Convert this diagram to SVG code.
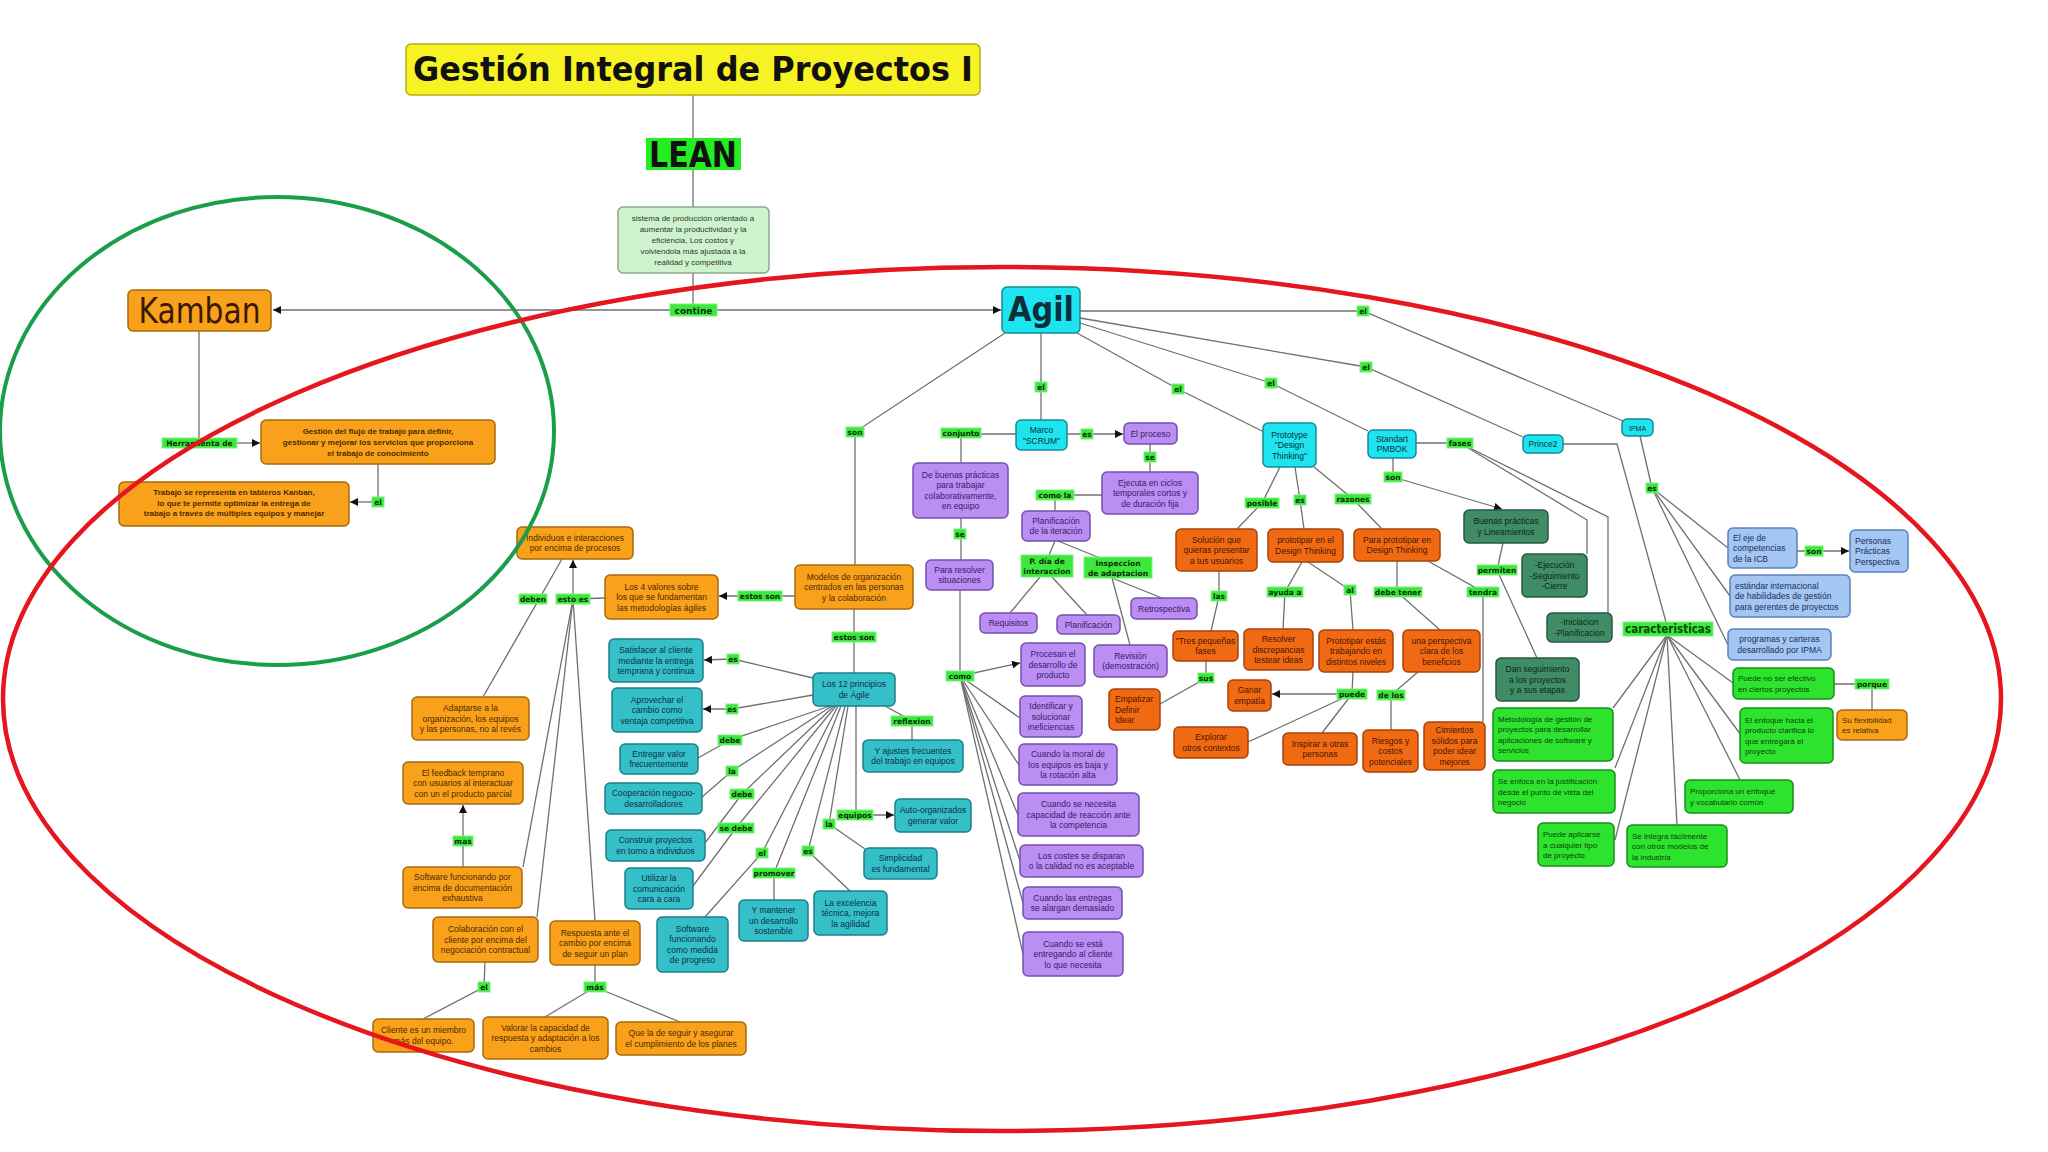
<svg xmlns="http://www.w3.org/2000/svg" width="2048" height="1152" viewBox="0 0 2048 1152">
<defs>
<marker id="ah" viewBox="0 0 10 10" refX="10" refY="5" markerWidth="8" markerHeight="8" markerUnits="userSpaceOnUse" orient="auto"><path d="M0,0 L10,5 L0,10 z" fill="#111"/></marker>
<style>
.t{font-family:"Liberation Sans",Arial,sans-serif;font-size:8.5px;text-anchor:middle}
.s8{font-size:8px}
.tl{text-anchor:start}
.b{font-weight:bold}
.nd rect{stroke-width:1.5;rx:5px}
.lo rect{fill:#f9a11b;stroke:#a86a0c}.lo text{fill:#4d2a00}
.do rect{fill:#f06a14;stroke:#a84208}.do text{fill:#4a1500}
.te rect{fill:#35bfc9;stroke:#1c7f88}.te text{fill:#0b3148}
.cy rect{fill:#1ee4ef;stroke:#138c96}.cy text{fill:#0c2f3a}
.pu rect{fill:#ba8ef3;stroke:#7450ad}.pu text{fill:#3a1a6a}
.dg rect{fill:#3f8c66;stroke:#245a40}.dg text{fill:#0c2a18}
.bg rect{fill:#2ee32e;stroke:#17901a}.bg text{fill:#0a420a}
.lb rect{fill:#a3c6f3;stroke:#5a82bd}.lb text{fill:#1b2f5c}
.lg rect{fill:#cdf3cd;stroke:#8aa88a}.lg text{fill:#333}
#connectors path{fill:none;stroke:#707070;stroke-width:1.3}
#connectors path.a{marker-end:url(#ah)}
.lbl rect{fill:#3ce83c;stroke:#7cf27c;stroke-width:1}
.lbl text{font-family:"DejaVu Sans","Liberation Sans",sans-serif;font-weight:bold;font-size:7.5px;fill:#0b2e0b;text-anchor:middle}
.big{font-family:"DejaVu Sans","Liberation Sans",sans-serif;font-weight:bold;text-anchor:middle;fill:#111}
</style>
</defs>
<rect width="2048" height="1152" fill="#ffffff"/>

<g id="connectors">
<path d="M693,95V138"/>
<path d="M693,170V207"/>
<path d="M693,273V304"/>
<path class="a" d="M670,310H273"/>
<path class="a" d="M717,310H1001"/>
<path d="M199,331V438"/>
<path class="a" d="M237,443H260"/>
<path d="M378,464V497"/>
<path class="a" d="M372,502H350"/>
<path d="M1041,333V420"/>
<path d="M1005,333L855,432V565"/>
<path d="M1080,311H1363L1623,421"/>
<path d="M1080,318L1366,367L1523,437"/>
<path d="M1080,323L1271,383L1368,431"/>
<path d="M1077,333L1178,389L1264,432"/>
<path d="M1016,434H961V463"/>
<path class="a" d="M1067,434H1123"/>
<path d="M1150,444V472"/>
<path d="M1102,495H1055V511"/>
<path d="M961,518V560"/>
<path d="M960,590V676"/>
<path d="M1055,541L1047,560"/>
<path d="M1058,541L1110,562"/>
<path d="M1040,577L1010,613"/>
<path d="M1052,577L1087,615"/>
<path d="M1112,578L1162,598"/>
<path d="M1112,578L1130,645"/>
<path class="a" d="M960,676L1020,663"/>
<path d="M960,676L1020,718"/>
<path d="M960,676L1019,765"/>
<path d="M960,676L1018,815"/>
<path d="M960,676L1020,861"/>
<path d="M960,676L1023,903"/>
<path d="M960,676L1023,954"/>
<path d="M1280,467L1262,503L1237,529"/>
<path d="M1295,467L1300,500L1304,529"/>
<path d="M1314,467L1353,499L1382,529"/>
<path d="M1219,571V596L1211,631"/>
<path d="M1302,562L1285,592L1283,629"/>
<path d="M1308,562L1350,590L1353,630"/>
<path d="M1397,561V592L1440,630"/>
<path d="M1428,561L1483,592V722"/>
<path d="M1206,661V678L1160,704"/>
<path d="M1353,672L1352,694"/>
<path class="a" d="M1338,694H1272"/>
<path d="M1352,694L1248,742"/>
<path d="M1352,694L1322,733"/>
<path d="M1418,672L1391,695V730"/>
<path d="M1416,443H1460"/>
<path d="M1460,443L1587,520V554"/>
<path d="M1460,443L1608,517V613"/>
<path d="M1393,458V477"/>
<path class="a" d="M1393,477L1502,509"/>
<path d="M1503,543L1497,570L1537,658"/>
<path d="M1563,444H1617L1666,622"/>
<path d="M1640,436L1652,488"/>
<path d="M1652,488L1728,548"/>
<path d="M1652,488L1730,596"/>
<path d="M1652,488L1728,645"/>
<path class="a" d="M1797,551H1849"/>
<path d="M1667,635L1613,708"/>
<path d="M1667,635L1615,768"/>
<path d="M1667,635L1615,840"/>
<path d="M1667,635L1677,825"/>
<path d="M1667,635L1740,780"/>
<path d="M1667,635L1741,735"/>
<path d="M1667,635L1733,683"/>
<path d="M1834,684H1872V710"/>
<path class="a" d="M795,596H719"/>
<path d="M854,609V673"/>
<path d="M605,598L573,599"/>
<path class="a" d="M573,599V560"/>
<path d="M562,559L483,697"/>
<path d="M573,599L523,867"/>
<path d="M573,599L537,917"/>
<path d="M573,599L595,921"/>
<path class="a" d="M463,867V805"/>
<path d="M485,962L484,987L423,1019"/>
<path d="M595,965V987"/>
<path d="M595,987L545,1017"/>
<path d="M595,987L680,1022"/>
<path class="a" d="M813,678L733,659L704,660"/>
<path class="a" d="M813,695L732,709H703"/>
<path d="M830,706L730,740L698,758"/>
<path d="M832,706L732,771L702,797"/>
<path d="M834,706L742,794L705,843"/>
<path d="M836,706L736,828L693,886"/>
<path d="M838,706L762,853L705,917"/>
<path d="M841,706L774,873V900"/>
<path d="M845,706L808,851L850,891"/>
<path d="M848,706L829,824L865,849"/>
<path class="a" d="M856,706V815H894"/>
<path d="M885,706L912,721V740"/>
</g>

<g id="n-title"><rect x="406" y="44" width="574" height="51" rx="5" fill="#f7f224" stroke="#b5ae10" stroke-width="1.5"/><text class="big" x="693" y="81" font-size="34" textLength="560" lengthAdjust="spacingAndGlyphs">Gestión Integral de Proyectos I</text></g>
<g id="n-lean"><rect x="646" y="138" width="95" height="32" fill="#22ee22"/><text class="big" x="693" y="167" font-size="36" textLength="88" lengthAdjust="spacingAndGlyphs">LEAN</text></g>
<g id="n-desc" class="nd lg"><rect x="618" y="207" width="151" height="66"/><text class="t s8" x="693" y="221"><tspan x="693">sistema de producción orientado a</tspan><tspan x="693" dy="11">aumentar la productividad y la</tspan><tspan x="693" dy="11">eficiencia, Los costos y</tspan><tspan x="693" dy="11">volviendola más ajustada a la</tspan><tspan x="693" dy="11">realidad y competitiva</tspan></text></g>

<g id="n-kamban" class="nd lo"><rect x="128" y="290" width="143" height="41"/><text class="big" x="199.5" y="323" font-size="35" font-weight="normal" style="font-weight:normal;fill:#3a1a00" textLength="122" lengthAdjust="spacingAndGlyphs">Kamban</text></g>
<g id="n-gestion" class="nd lo"><rect x="261" y="420" width="234" height="44"/><text class="t s8 b" x="378" y="434"><tspan x="378">Gestión del flujo de trabajo para definir,</tspan><tspan x="378" dy="11">gestionar y mejorar los servicios que proporciona</tspan><tspan x="378" dy="11">el trabajo de conocimiento</tspan></text></g>
<g id="n-trabajo" class="nd lo"><rect x="119" y="482" width="230" height="44"/><text class="t s8 b" x="234" y="495"><tspan x="234">Trabajo se representa en tableros Kanban,</tspan><tspan x="234" dy="10.5">lo que te permite optimizar la entrega de</tspan><tspan x="234" dy="10.5">trabajo a través de múltiples equipos y manejar</tspan></text></g>

<g id="n-agil" class="nd cy"><rect x="1002" y="287" width="78" height="46"/><text class="big" x="1041" y="321" font-size="34" textLength="66" lengthAdjust="spacingAndGlyphs">Agil</text></g>
<g id="n-marco" class="nd cy"><rect x="1016" y="420" width="51" height="30"/><text class="t" x="1041.5" y="433"><tspan x="1041.5">Marco</tspan><tspan x="1041.5" dy="10.5">"SCRUM"</tspan></text></g>
<g id="n-proceso" class="nd pu"><rect x="1124" y="423" width="53" height="21"/><text class="t" x="1150.5" y="436.5">El proceso</text></g>
<g id="n-ejecuta" class="nd pu"><rect x="1102" y="472" width="96" height="42"/><text class="t" x="1150" y="485.5"><tspan x="1150">Ejecuta en ciclos</tspan><tspan x="1150" dy="10.5">temporales cortos y</tspan><tspan x="1150" dy="10.5">de duración fija</tspan></text></g>
<g id="n-buenaspr" class="nd pu"><rect x="913" y="463" width="95" height="55"/><text class="t" x="960.5" y="477.75"><tspan x="960.5">De buenas prácticas</tspan><tspan x="960.5" dy="10.5">para trabajar</tspan><tspan x="960.5" dy="10.5">colaborativamente,</tspan><tspan x="960.5" dy="10.5">en equipo</tspan></text></g>
<g id="n-resolver" class="nd pu"><rect x="926" y="560" width="67" height="30"/><text class="t" x="959.5" y="572.75"><tspan x="959.5">Para resolver</tspan><tspan x="959.5" dy="10.5">situaciones</tspan></text></g>
<g id="n-planit" class="nd pu"><rect x="1022" y="511" width="68" height="30"/><text class="t" x="1056" y="523.75"><tspan x="1056">Planificación</tspan><tspan x="1056" dy="10.5">de la iteración</tspan></text></g>
<g id="n-requisitos" class="nd pu"><rect x="980" y="613" width="57" height="20"/><text class="t" x="1008.5" y="626">Requisitos</text></g>
<g id="n-planif" class="nd pu"><rect x="1057" y="615" width="63" height="19"/><text class="t" x="1088.5" y="627.5">Planificación</text></g>
<g id="n-retro" class="nd pu"><rect x="1131" y="598" width="66" height="21"/><text class="t" x="1164" y="611.5">Retrospectiva</text></g>
<g id="n-revision" class="nd pu"><rect x="1094" y="645" width="73" height="32"/><text class="t" x="1130.5" y="658.75"><tspan x="1130.5">Revisión</tspan><tspan x="1130.5" dy="10.5">(demostración)</tspan></text></g>
<g id="n-procesan" class="nd pu"><rect x="1021" y="643" width="64" height="43"/><text class="t" x="1053" y="657"><tspan x="1053">Procesan el</tspan><tspan x="1053" dy="10.5">desarrollo de</tspan><tspan x="1053" dy="10.5">producto</tspan></text></g>
<g id="n-identificar" class="nd pu"><rect x="1020" y="696" width="62" height="41"/><text class="t" x="1051" y="709"><tspan x="1051">Identificar y</tspan><tspan x="1051" dy="10.5">solucionar</tspan><tspan x="1051" dy="10.5">ineficiencias</tspan></text></g>
<g id="n-moral" class="nd pu"><rect x="1019" y="744" width="98" height="41"/><text class="t" x="1068" y="757"><tspan x="1068">Cuando la moral de</tspan><tspan x="1068" dy="10.5">los equipos es baja y</tspan><tspan x="1068" dy="10.5">la rotación alta</tspan></text></g>
<g id="n-necesita" class="nd pu"><rect x="1018" y="793" width="121" height="43"/><text class="t" x="1078.5" y="807"><tspan x="1078.5">Cuando se necesita</tspan><tspan x="1078.5" dy="10.5">capacidad de reacción ante</tspan><tspan x="1078.5" dy="10.5">la competencia</tspan></text></g>
<g id="n-costes" class="nd pu"><rect x="1020" y="845" width="123" height="32"/><text class="t" x="1081.5" y="858.75"><tspan x="1081.5">Los costes se disparan</tspan><tspan x="1081.5" dy="10.5">o la calidad no es aceptable</tspan></text></g>
<g id="n-entregas" class="nd pu"><rect x="1023" y="887" width="99" height="32"/><text class="t" x="1072.5" y="900.75"><tspan x="1072.5">Cuando las entregas</tspan><tspan x="1072.5" dy="10.5">se alargan demasiado</tspan></text></g>
<g id="n-cliente" class="nd pu"><rect x="1023" y="932" width="100" height="44"/><text class="t" x="1073" y="946.5"><tspan x="1073">Cuando se está</tspan><tspan x="1073" dy="10.5">entregando al cliente</tspan><tspan x="1073" dy="10.5">lo que necesita</tspan></text></g>

<g id="n-prototype" class="nd cy"><rect x="1263" y="423" width="53" height="44"/><text class="t" x="1289.5" y="437.5"><tspan x="1289.5">Prototype</tspan><tspan x="1289.5" dy="10.5">"Design</tspan><tspan x="1289.5" dy="10.5">Thinking"</tspan></text></g>
<g id="n-solucion" class="nd do"><rect x="1176" y="529" width="81" height="42"/><text class="t" x="1216.5" y="542.5"><tspan x="1216.5">Solución que</tspan><tspan x="1216.5" dy="10.5">quieras presentar</tspan><tspan x="1216.5" dy="10.5">a tus usuarios</tspan></text></g>
<g id="n-prototipar" class="nd do"><rect x="1268" y="529" width="75" height="33"/><text class="t" x="1305.5" y="543.25"><tspan x="1305.5">prototipar en el</tspan><tspan x="1305.5" dy="10.5">Design Thinking</tspan></text></g>
<g id="n-paraproto" class="nd do"><rect x="1354" y="529" width="86" height="32"/><text class="t" x="1397" y="542.75"><tspan x="1397">Para prototipar en</tspan><tspan x="1397" dy="10.5">Design Thinking</tspan></text></g>
<g id="n-tres" class="nd do"><rect x="1173" y="631" width="65" height="30"/><text class="t" x="1205.5" y="643.75"><tspan x="1205.5">"Tres pequeñas</tspan><tspan x="1205.5" dy="10.5">fases</tspan></text></g>
<g id="n-resolverd" class="nd do"><rect x="1244" y="629" width="69" height="41"/><text class="t" x="1278.5" y="642"><tspan x="1278.5">Resolver</tspan><tspan x="1278.5" dy="10.5">discrepancias</tspan><tspan x="1278.5" dy="10.5">testear ideas</tspan></text></g>
<g id="n-niveles" class="nd do"><rect x="1319" y="630" width="74" height="42"/><text class="t" x="1356" y="643.5"><tspan x="1356">Prototipar estás</tspan><tspan x="1356" dy="10.5">trabajando en</tspan><tspan x="1356" dy="10.5">distintos niveles</tspan></text></g>
<g id="n-perspectiva" class="nd do"><rect x="1403" y="630" width="77" height="42"/><text class="t" x="1441.5" y="643.5"><tspan x="1441.5">una perspectiva</tspan><tspan x="1441.5" dy="10.5">clara de los</tspan><tspan x="1441.5" dy="10.5">beneficios</tspan></text></g>
<g id="n-empatizar" class="nd do"><rect x="1109" y="689" width="51" height="41"/><text class="t tl" x="1115" y="702"><tspan x="1115">Empatizar</tspan><tspan x="1115" dy="10.5">Definir</tspan><tspan x="1115" dy="10.5">Idear</tspan></text></g>
<g id="n-ganar" class="nd do"><rect x="1228" y="680" width="43" height="31"/><text class="t" x="1249.5" y="693.25"><tspan x="1249.5">Ganar</tspan><tspan x="1249.5" dy="10.5">empatía</tspan></text></g>
<g id="n-explorar" class="nd do"><rect x="1174" y="727" width="74" height="31"/><text class="t" x="1211" y="740.25"><tspan x="1211">Explorar</tspan><tspan x="1211" dy="10.5">otros contextos</tspan></text></g>
<g id="n-inspirar" class="nd do"><rect x="1283" y="733" width="74" height="32"/><text class="t" x="1320" y="746.75"><tspan x="1320">Inspirar a otras</tspan><tspan x="1320" dy="10.5">personas</tspan></text></g>
<g id="n-riesgos" class="nd do"><rect x="1363" y="730" width="55" height="42"/><text class="t" x="1390.5" y="743.5"><tspan x="1390.5">Riesgos y</tspan><tspan x="1390.5" dy="10.5">costos</tspan><tspan x="1390.5" dy="10.5">potenciales</tspan></text></g>
<g id="n-cimientos" class="nd do"><rect x="1424" y="722" width="61" height="48"/><text class="t" x="1454.5" y="733.25"><tspan x="1454.5">Cimientos</tspan><tspan x="1454.5" dy="10.5">sólidos para</tspan><tspan x="1454.5" dy="10.5">poder idear</tspan><tspan x="1454.5" dy="10.5">mejores</tspan></text></g>

<g id="n-pmbok" class="nd cy"><rect x="1368" y="430" width="48" height="28"/><text class="t" x="1392" y="441.75"><tspan x="1392">Standart</tspan><tspan x="1392" dy="10.5">PMBOK</tspan></text></g>
<g id="n-buenasl" class="nd dg"><rect x="1464" y="510" width="84" height="33"/><text class="t" x="1506" y="524.25"><tspan x="1506">Buenas prácticas</tspan><tspan x="1506" dy="10.5">y Lineamientos</tspan></text></g>
<g id="n-ejecucion" class="nd dg"><rect x="1522" y="554" width="65" height="43"/><text class="t" x="1554.5" y="568"><tspan x="1554.5">-Ejecución</tspan><tspan x="1554.5" dy="10.5">-Seguimiento</tspan><tspan x="1554.5" dy="10.5">-Cierre</tspan></text></g>
<g id="n-iniciacion" class="nd dg"><rect x="1547" y="613" width="65" height="29"/><text class="t" x="1579.5" y="625.25"><tspan x="1579.5">-Iniciacion</tspan><tspan x="1579.5" dy="10.5">-Planificacion</tspan></text></g>
<g id="n-dan" class="nd dg"><rect x="1496" y="658" width="83" height="43"/><text class="t" x="1537.5" y="672"><tspan x="1537.5">Dan seguimiento</tspan><tspan x="1537.5" dy="10.5">a los proyectos</tspan><tspan x="1537.5" dy="10.5">y a sus etapas</tspan></text></g>
<g id="n-prince2" class="nd cy"><rect x="1523" y="435" width="40" height="18"/><text class="t" x="1543" y="447">Prince2</text></g>
<g id="n-ipma" class="nd cy"><rect x="1622" y="419" width="31" height="17"/><text class="t" x="1637.5" y="430.5" style="font-size:7px">IPMA</text></g>
<g id="n-icb" class="nd lb"><rect x="1728" y="528" width="69" height="40"/><text class="t tl" x="1733" y="540.5"><tspan x="1733">El eje de</tspan><tspan x="1733" dy="10.5">competencias</tspan><tspan x="1733" dy="10.5">de la ICB</tspan></text></g>
<g id="n-personas" class="nd lb"><rect x="1850" y="530" width="58" height="42"/><text class="t tl" x="1855" y="543.5"><tspan x="1855">Personas</tspan><tspan x="1855" dy="10.5">Prácticas</tspan><tspan x="1855" dy="10.5">Perspectiva</tspan></text></g>
<g id="n-estandar" class="nd lb"><rect x="1730" y="575" width="120" height="42"/><text class="t tl" x="1735" y="588.5"><tspan x="1735">estándar internacional</tspan><tspan x="1735" dy="10.5">de habilidades de gestión</tspan><tspan x="1735" dy="10.5">para gerentes de proyectos</tspan></text></g>
<g id="n-programas" class="nd lb"><rect x="1728" y="629" width="103" height="31"/><text class="t" x="1779.5" y="642.25"><tspan x="1779.5">programas y carteras</tspan><tspan x="1779.5" dy="10.5">desarrollado por IPMA</tspan></text></g>
<g id="n-puedeno" class="nd bg"><rect x="1733" y="668" width="101" height="31"/><text class="t tl s8" x="1738" y="681.25"><tspan x="1738">Puede no ser efectivo</tspan><tspan x="1738" dy="10.5">en ciertos proyectos</tspan></text></g>
<g id="n-flexibilidad" class="nd lo"><rect x="1837" y="710" width="70" height="30"/><text class="t tl s8" x="1842" y="722.75"><tspan x="1842">Su flexibilidad</tspan><tspan x="1842" dy="10.5">es relativa</tspan></text></g>
<g id="n-enfoque" class="nd bg"><rect x="1740" y="708" width="93" height="55"/><text class="t tl s8" x="1745" y="722.75"><tspan x="1745">El enfoque hacia el</tspan><tspan x="1745" dy="10.5">producto clarifica lo</tspan><tspan x="1745" dy="10.5">que entregará el</tspan><tspan x="1745" dy="10.5">proyecto</tspan></text></g>
<g id="n-proporciona" class="nd bg"><rect x="1685" y="780" width="108" height="33"/><text class="t tl s8" x="1690" y="794.25"><tspan x="1690">Proporciona un enfoque</tspan><tspan x="1690" dy="10.5">y vocabulario común</tspan></text></g>
<g id="n-integra" class="nd bg"><rect x="1627" y="825" width="100" height="42"/><text class="t tl s8" x="1632" y="838.5"><tspan x="1632">Se integra fácilmente</tspan><tspan x="1632" dy="10.5">con otros modelos de</tspan><tspan x="1632" dy="10.5">la industria</tspan></text></g>
<g id="n-aplicarse" class="nd bg"><rect x="1538" y="823" width="76" height="43"/><text class="t tl s8" x="1543" y="837"><tspan x="1543">Puede aplicarse</tspan><tspan x="1543" dy="10.5">a cualquier tipo</tspan><tspan x="1543" dy="10.5">de proyecto</tspan></text></g>
<g id="n-enfoca" class="nd bg"><rect x="1493" y="770" width="122" height="43"/><text class="t tl s8" x="1498" y="784"><tspan x="1498">Se enfoca en la justificación</tspan><tspan x="1498" dy="10.5">desde el punto de vista del</tspan><tspan x="1498" dy="10.5">negocio</tspan></text></g>
<g id="n-metodologia" class="nd bg"><rect x="1493" y="708" width="120" height="53"/><text class="t tl s8" x="1498" y="721.75"><tspan x="1498">Metodología de gestión de</tspan><tspan x="1498" dy="10.5">proyectos para desarrollar</tspan><tspan x="1498" dy="10.5">aplicaciones de software y</tspan><tspan x="1498" dy="10.5">servicios</tspan></text></g>

<g id="n-modelos" class="nd lo"><rect x="795" y="565" width="118" height="44"/><text class="t" x="854" y="579.5"><tspan x="854">Modelos de organización</tspan><tspan x="854" dy="10.5">centrados en las personas</tspan><tspan x="854" dy="10.5">y la colaboración</tspan></text></g>
<g id="n-valores4" class="nd lo"><rect x="605" y="575" width="113" height="44"/><text class="t" x="661.5" y="589.5"><tspan x="661.5">Los 4 valores sobre</tspan><tspan x="661.5" dy="10.5">los que se fundamentan</tspan><tspan x="661.5" dy="10.5">las metodologías ágiles</tspan></text></g>
<g id="n-individuos" class="nd lo"><rect x="517" y="527" width="116" height="32"/><text class="t" x="575" y="540.75"><tspan x="575">Individuos e interacciones</tspan><tspan x="575" dy="10.5">por encima de procesos</tspan></text></g>
<g id="n-adaptarse" class="nd lo"><rect x="412" y="697" width="117" height="43"/><text class="t" x="470.5" y="711"><tspan x="470.5">Adaptarse a la</tspan><tspan x="470.5" dy="10.5">organización, los equipos</tspan><tspan x="470.5" dy="10.5">y las personas, no al revés</tspan></text></g>
<g id="n-feedback" class="nd lo"><rect x="403" y="762" width="120" height="42"/><text class="t" x="463" y="775.5"><tspan x="463">El feedback temprano</tspan><tspan x="463" dy="10.5">con usuarios al interactuar</tspan><tspan x="463" dy="10.5">con un el producto parcial</tspan></text></g>
<g id="n-softdoc" class="nd lo"><rect x="403" y="867" width="119" height="41"/><text class="t" x="462.5" y="880"><tspan x="462.5">Software funcionando por</tspan><tspan x="462.5" dy="10.5">encima de documentación</tspan><tspan x="462.5" dy="10.5">exhaustiva</tspan></text></g>
<g id="n-colab" class="nd lo"><rect x="433" y="917" width="105" height="45"/><text class="t" x="485.5" y="932"><tspan x="485.5">Colaboración con el</tspan><tspan x="485.5" dy="10.5">cliente por encima del</tspan><tspan x="485.5" dy="10.5">negociación contractual</tspan></text></g>
<g id="n-respuesta" class="nd lo"><rect x="550" y="921" width="90" height="44"/><text class="t" x="595" y="935.5"><tspan x="595">Respuesta ante el</tspan><tspan x="595" dy="10.5">cambio por encima</tspan><tspan x="595" dy="10.5">de seguir un plan</tspan></text></g>
<g id="n-miembro" class="nd lo"><rect x="373" y="1019" width="101" height="33"/><text class="t" x="423.5" y="1033.25"><tspan x="423.5">Cliente es un miembro</tspan><tspan x="423.5" dy="10.5">más del equipo.</tspan></text></g>
<g id="n-valorar" class="nd lo"><rect x="483" y="1017" width="125" height="42"/><text class="t" x="545.5" y="1030.5"><tspan x="545.5">Valorar la capacidad de</tspan><tspan x="545.5" dy="10.5">respuesta y adaptación a los</tspan><tspan x="545.5" dy="10.5">cambios</tspan></text></g>
<g id="n-quela" class="nd lo"><rect x="616" y="1022" width="130" height="33"/><text class="t" x="681" y="1036.25"><tspan x="681">Que la de seguir y asegurar</tspan><tspan x="681" dy="10.5">el cumplimiento de los planes</tspan></text></g>

<g id="n-doce" class="nd te"><rect x="813" y="673" width="82" height="33"/><text class="t" x="854" y="687.25"><tspan x="854">Los 12 principios</tspan><tspan x="854" dy="10.5">de Ágile</tspan></text></g>
<g id="n-satisfacer" class="nd te"><rect x="609" y="639" width="94" height="43"/><text class="t" x="656" y="653"><tspan x="656">Satisfacer al cliente</tspan><tspan x="656" dy="10.5">mediante la entrega</tspan><tspan x="656" dy="10.5">temprana y continua</tspan></text></g>
<g id="n-aprovechar" class="nd te"><rect x="612" y="688" width="90" height="44"/><text class="t" x="657" y="702.5"><tspan x="657">Aprovechar el</tspan><tspan x="657" dy="10.5">cambio como</tspan><tspan x="657" dy="10.5">ventaja competitiva</tspan></text></g>
<g id="n-entregar" class="nd te"><rect x="620" y="744" width="78" height="30"/><text class="t" x="659" y="756.75"><tspan x="659">Entregar valor</tspan><tspan x="659" dy="10.5">frecuentemente</tspan></text></g>
<g id="n-cooperacion" class="nd te"><rect x="605" y="783" width="97" height="31"/><text class="t" x="653.5" y="796.25"><tspan x="653.5">Cooperación negocio-</tspan><tspan x="653.5" dy="10.5">desarrolladores</tspan></text></g>
<g id="n-construir" class="nd te"><rect x="606" y="830" width="99" height="31"/><text class="t" x="655.5" y="843.25"><tspan x="655.5">Construir proyectos</tspan><tspan x="655.5" dy="10.5">en torno a individuos</tspan></text></g>
<g id="n-utilizar" class="nd te"><rect x="625" y="868" width="68" height="41"/><text class="t" x="659" y="881"><tspan x="659">Utilizar la</tspan><tspan x="659" dy="10.5">comunicación</tspan><tspan x="659" dy="10.5">cara a cara</tspan></text></g>
<g id="n-softprog" class="nd te"><rect x="657" y="917" width="71" height="55"/><text class="t" x="692.5" y="931.75"><tspan x="692.5">Software</tspan><tspan x="692.5" dy="10.5">funcionando</tspan><tspan x="692.5" dy="10.5">como medida</tspan><tspan x="692.5" dy="10.5">de progreso</tspan></text></g>
<g id="n-mantener" class="nd te"><rect x="739" y="900" width="69" height="41"/><text class="t" x="773.5" y="913"><tspan x="773.5">Y mantener</tspan><tspan x="773.5" dy="10.5">un desarrollo</tspan><tspan x="773.5" dy="10.5">sostenible</tspan></text></g>
<g id="n-excelencia" class="nd te"><rect x="814" y="891" width="73" height="44"/><text class="t" x="850.5" y="905.5"><tspan x="850.5">La excelencia</tspan><tspan x="850.5" dy="10.5">técnica, mejora</tspan><tspan x="850.5" dy="10.5">la agilidad</tspan></text></g>
<g id="n-simplicidad" class="nd te"><rect x="864" y="848" width="73" height="31"/><text class="t" x="900.5" y="861.25"><tspan x="900.5">Simplicidad</tspan><tspan x="900.5" dy="10.5">es fundamental</tspan></text></g>
<g id="n-autoorg" class="nd te"><rect x="895" y="799" width="76" height="33"/><text class="t" x="933" y="813.25"><tspan x="933">Auto-organizados</tspan><tspan x="933" dy="10.5">generar valor</tspan></text></g>
<g id="n-ajustes" class="nd te"><rect x="863" y="740" width="100" height="32"/><text class="t" x="913" y="753.75"><tspan x="913">Y ajustes frecuentes</tspan><tspan x="913" dy="10.5">del trabajo en equipos</tspan></text></g>

<g id="link-labels">
<g class="lbl"><rect x="670" y="304" width="47" height="12"/><text x="693.5" y="313.5" style="font-size:9px">contine</text></g>
<g class="lbl"><rect x="162" y="438" width="75" height="10"/><text x="199.5" y="446">Herramienta de</text></g>
<g class="lbl"><rect x="372" y="497" width="12" height="10"/><text x="378" y="505">el</text></g>
<g class="lbl"><rect x="1035" y="382" width="12" height="10"/><text x="1041" y="390">el</text></g>
<g class="lbl"><rect x="846" y="427" width="18" height="10"/><text x="855" y="435">son</text></g>
<g class="lbl"><rect x="1357" y="306" width="12" height="10"/><text x="1363" y="314">el</text></g>
<g class="lbl"><rect x="1360" y="362" width="12" height="10"/><text x="1366" y="370">el</text></g>
<g class="lbl"><rect x="1265" y="378" width="12" height="10"/><text x="1271" y="386">el</text></g>
<g class="lbl"><rect x="1172" y="384" width="12" height="10"/><text x="1178" y="392">el</text></g>
<g class="lbl"><rect x="941" y="428" width="40" height="10"/><text x="961" y="436">conjunto</text></g>
<g class="lbl"><rect x="1081" y="429" width="12" height="10"/><text x="1087" y="437">es</text></g>
<g class="lbl"><rect x="1144" y="452" width="12" height="10"/><text x="1150" y="460">se</text></g>
<g class="lbl"><rect x="1036" y="490" width="38" height="10"/><text x="1055" y="498">como la</text></g>
<g class="lbl"><rect x="954" y="529" width="12" height="10"/><text x="960" y="537">se</text></g>
<g class="lbl"><rect x="946" y="671" width="28" height="10"/><text x="960" y="679">como</text></g>
<g class="lbl"><rect x="1021" y="555" width="52" height="22"/><text x="1047" y="564">P. día de</text><text x="1047" y="574">interaccion</text></g>
<g class="lbl"><rect x="1084" y="557" width="68" height="21"/><text x="1118" y="566">Inspeccion</text><text x="1118" y="576">de adaptacion</text></g>
<g class="lbl"><rect x="1245" y="498" width="34" height="10"/><text x="1262" y="506">posible</text></g>
<g class="lbl"><rect x="1294" y="495" width="12" height="10"/><text x="1300" y="503">es</text></g>
<g class="lbl"><rect x="1335" y="494" width="36" height="10"/><text x="1353" y="502">razones</text></g>
<g class="lbl"><rect x="1211" y="591" width="16" height="10"/><text x="1219" y="599">las</text></g>
<g class="lbl"><rect x="1267" y="587" width="36" height="10"/><text x="1285" y="595">ayuda a</text></g>
<g class="lbl"><rect x="1344" y="585" width="12" height="10"/><text x="1350" y="593">al</text></g>
<g class="lbl"><rect x="1374" y="587" width="48" height="10"/><text x="1398" y="595">debe tener</text></g>
<g class="lbl"><rect x="1467" y="587" width="32" height="10"/><text x="1483" y="595">tendra</text></g>
<g class="lbl"><rect x="1198" y="673" width="16" height="10"/><text x="1206" y="681">sus</text></g>
<g class="lbl"><rect x="1337" y="689" width="30" height="10"/><text x="1352" y="697">puede</text></g>
<g class="lbl"><rect x="1377" y="690" width="28" height="10"/><text x="1391" y="698">de los</text></g>
<g class="lbl"><rect x="1384" y="472" width="18" height="10"/><text x="1393" y="480">son</text></g>
<g class="lbl"><rect x="1447" y="438" width="26" height="10"/><text x="1460" y="446">fases</text></g>
<g class="lbl"><rect x="1477" y="565" width="40" height="10"/><text x="1497" y="573">permiten</text></g>
<g class="lbl"><rect x="1646" y="483" width="12" height="10"/><text x="1652" y="491">es</text></g>
<g class="lbl"><rect x="1805" y="546" width="18" height="10"/><text x="1814" y="554">son</text></g>
<g class="lbl"><rect x="1623" y="622" width="90" height="14"/><text x="1668" y="633" style="font-size:12px;fill:#0a4a0a" textLength="86" lengthAdjust="spacingAndGlyphs">caracteristicas</text></g>
<g class="lbl"><rect x="1855" y="679" width="34" height="10"/><text x="1872" y="687">porque</text></g>
<g class="lbl"><rect x="738" y="591" width="44" height="10"/><text x="760" y="599">estos son</text></g>
<g class="lbl"><rect x="832" y="632" width="44" height="10"/><text x="854" y="640">estos son</text></g>
<g class="lbl"><rect x="556" y="594" width="34" height="10"/><text x="573" y="602">esto es</text></g>
<g class="lbl"><rect x="519" y="594" width="28" height="10"/><text x="533" y="602">deben</text></g>
<g class="lbl"><rect x="453" y="836" width="20" height="10"/><text x="463" y="844">mas</text></g>
<g class="lbl"><rect x="478" y="982" width="12" height="10"/><text x="484" y="990">el</text></g>
<g class="lbl"><rect x="584" y="982" width="22" height="10"/><text x="595" y="990">más</text></g>
<g class="lbl"><rect x="727" y="654" width="12" height="10"/><text x="733" y="662">es</text></g>
<g class="lbl"><rect x="726" y="704" width="12" height="10"/><text x="732" y="712">es</text></g>
<g class="lbl"><rect x="718" y="735" width="24" height="10"/><text x="730" y="743">debe</text></g>
<g class="lbl"><rect x="726" y="766" width="12" height="10"/><text x="732" y="774">la</text></g>
<g class="lbl"><rect x="730" y="789" width="24" height="10"/><text x="742" y="797">debe</text></g>
<g class="lbl"><rect x="718" y="823" width="36" height="10"/><text x="736" y="831">se debe</text></g>
<g class="lbl"><rect x="756" y="848" width="12" height="10"/><text x="762" y="856">el</text></g>
<g class="lbl"><rect x="753" y="868" width="42" height="10"/><text x="774" y="876">promover</text></g>
<g class="lbl"><rect x="802" y="846" width="12" height="10"/><text x="808" y="854">es</text></g>
<g class="lbl"><rect x="823" y="819" width="12" height="10"/><text x="829" y="827">la</text></g>
<g class="lbl"><rect x="837" y="810" width="36" height="10"/><text x="855" y="818">equipos</text></g>
<g class="lbl"><rect x="891" y="716" width="42" height="10"/><text x="912" y="724">reflexion</text></g>
</g>

<g id="highlights" fill="none">
<ellipse cx="277" cy="431" rx="277" ry="234" stroke="#1a9e4a" stroke-width="4"/>
<ellipse cx="1002" cy="699" rx="999" ry="432" stroke="#e5161d" stroke-width="4.5"/>
</g>
</svg>
